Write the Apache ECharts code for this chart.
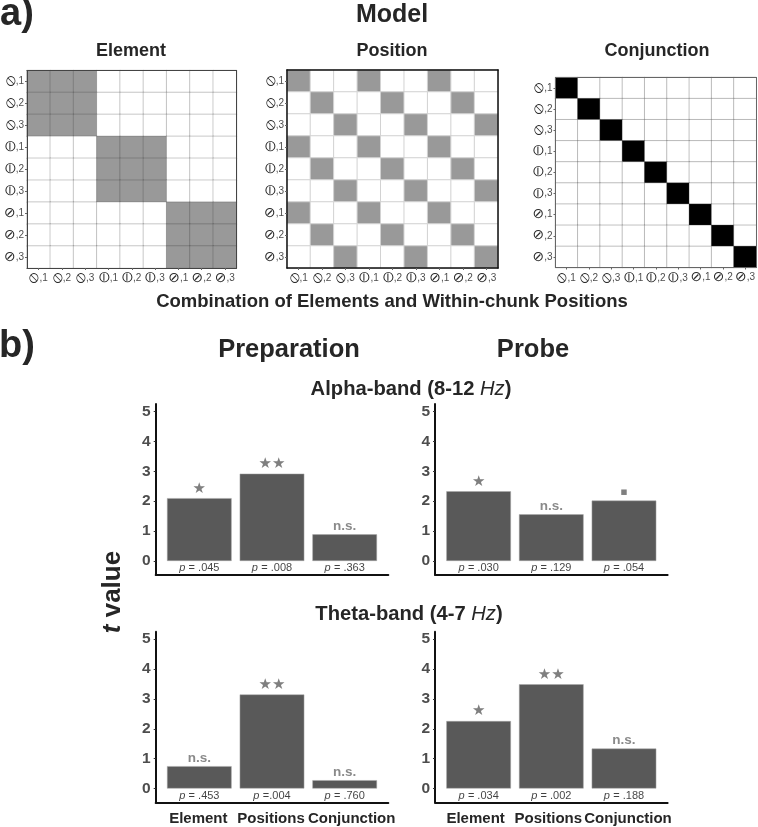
<!DOCTYPE html>
<html><head><meta charset="utf-8">
<style>html,body{margin:0;padding:0;background:#fff}#c{width:758px;height:827px}</style>
<script src="https://cdn.jsdelivr.net/npm/echarts@6/dist/echarts.min.js"></script>
</head><body><div id="c"></div>
<script>
const comboSymbols = ['⦸','⦸','⦸','⦶','⦶','⦶','⊘','⊘','⊘'];
const comboPositions = [1,2,3,1,2,3,1,2,3];
const elementGroups = [0,0,0,1,1,1,2,2,2];
const barCategories = ['Element','Positions','Conjunction'];
const alphaPrep = [2.10,2.92,0.89];
const alphaProbe = [2.33,1.56,2.02];
const thetaPrep = [0.75,3.15,0.28];
const thetaProbe = [2.26,3.49,1.34];
const alphaPrepP = ['= .045','= .008','= .363'];
const alphaProbeP = ['= .030','= .129','= .054'];
const thetaPrepP = ['= .453','=.004','= .760'];
const thetaProbeP = ['= .034','= .002','= .188'];
const alphaPrepSig = ['*','**','n.s.'];
const alphaProbeSig = ['*','n.s.','.'];
const thetaPrepSig = ['n.s.','**','n.s.'];
const thetaProbeSig = ['*','**','n.s.'];
const yTicks = [0,1,2,3,4,5];

const F = '"Liberation Sans",Arial,sans-serif';
const comboLabels = comboSymbols.map((s,i)=>s+','+comboPositions[i]);
const grids=[],xAxes=[],yAxes=[],series=[];

function catLabel(){return {
  interval:0,margin:3,
  formatter:v=>{const [s,n]=v.split(',');return '{'+(s==='⊘'?'o':'s')+'|'+s+'}{n|,'+n+'}';},
  rich:{s:{fontFamily:'"DejaVu Sans"',fontSize:15,color:'#222'},
        o:{fontFamily:'"DejaVu Sans"',fontSize:14,color:'#2a2a2a'},
        n:{fontFamily:F,fontSize:10,color:'#4d4d4d'}}
};}
function heat(box,cellFn,fill,border,frame,frameW){
  const gi=grids.length;
  grids.push({left:box[0],top:box[1],width:box[2],height:box[3],containLabel:false});
  const line={show:true,onZero:false,lineStyle:{color:frame,width:frameW}};
  xAxes.push({gridIndex:gi,type:'category',data:comboLabels,position:'bottom',axisLine:line,
    axisTick:{show:true,alignWithLabel:true,length:2,lineStyle:{color:'#666'}},axisLabel:catLabel(),splitLine:{show:false},z:5});
  yAxes.push({gridIndex:gi,type:'category',data:comboLabels,inverse:true,position:'left',axisLine:line,
    axisTick:{show:true,alignWithLabel:true,length:2,lineStyle:{color:'#666'}},axisLabel:catLabel(),splitLine:{show:false},z:5});
  const xi=xAxes.length-1, yi=yAxes.length-1;
  xAxes.push({gridIndex:gi,type:'category',data:comboLabels,position:'top',axisLine:line,axisTick:{show:false},axisLabel:{show:false},z:5});
  yAxes.push({gridIndex:gi,type:'category',data:comboLabels,inverse:true,position:'right',axisLine:line,axisTick:{show:false},axisLabel:{show:false},z:5});
  const data=[];
  for(let r=0;r<9;r++)for(let c=0;c<9;c++){
    const on=cellFn(r,c);
    data.push({value:[c,r,on?1:0],itemStyle:{color:on?fill:'#ffffff'}});
  }
  series.push({type:'heatmap',xAxisIndex:xi,yAxisIndex:yi,data,
    itemStyle:{borderColor:border,borderWidth:1},emphasis:{disabled:true},progressive:0});
}
heat([27,70.5,209.5,197.5],(r,c)=>elementGroups[r]===elementGroups[c],'#999999','rgba(40,40,40,0.24)','#444',1);
heat([287,70,211,198],(r,c)=>comboPositions[r]===comboPositions[c],'#999999','#d2d2d2','#111',1.5);
heat([555.5,77.5,202.5,190],(r,c)=>r===c,'#000000','rgba(60,60,60,0.3)','#666',1);

function panel(box,vals,ps,sigs,showCats,shifts){
  const gi=grids.length;
  grids.push({left:box[0],top:box[1],width:box[2],height:box[3]});
  const catRich={};
  shifts.forEach((s,i)=>{catRich['c'+i]={fontFamily:F,fontWeight:'bold',fontSize:15,color:'#262626',
    padding:s>=0?[0,0,0,2*s]:[0,-2*s,0,0]};});
  xAxes.push({gridIndex:gi,type:'value',min:0.4,max:3.6,splitLine:{show:false},
    axisLine:{show:true,onZero:false,lineStyle:{color:'#111',width:2}},
    axisTick:{show:false},
    axisLabel:{show:showCats,interval:0,customValues:[1,2,3],margin:9,hideOverlap:false,showMinLabel:true,showMaxLabel:true,
      formatter:v=>'{c'+(v-1)+'|'+barCategories[v-1]+'}',rich:catRich}});
  yAxes.push({gridIndex:gi,type:'value',min:-0.46,max:5.25,splitLine:{show:false},
    axisLine:{show:true,onZero:false,lineStyle:{color:'#111',width:2}},
    axisTick:{show:true,length:2,customValues:yTicks,lineStyle:{color:'#333'}},
    axisLabel:{customValues:yTicks,margin:5,fontFamily:F,fontWeight:'bold',fontSize:15.5,color:'#4d4d4d'}});
  const idx=xAxes.length-1;
  series.push({type:'bar',xAxisIndex:idx,yAxisIndex:yAxes.length-1,barWidth:64.6,
    data:vals.map((v,i)=>[i+1,v]),itemStyle:{color:'#595959',borderColor:'#a9a9a9',borderWidth:0.5},
    label:{show:true,position:'top',distance:1,formatter:p=>{const s=sigs[p.dataIndex];
        return s==='n.s.'?'{n|n.s.}':(s==='.'?'{d|▪}':'{a|'+s.replace(/\*/g,'★')+'}');},
      rich:{n:{fontFamily:F,fontWeight:'bold',fontSize:13.5,color:'#8a8a8a',lineHeight:14},
            a:{fontFamily:'"DejaVu Sans"',fontSize:15,color:'#7f7f7f',lineHeight:14,padding:[0,0,3,0]},
            d:{fontFamily:'"DejaVu Sans"',fontSize:11,color:'#7f7f7f',lineHeight:11,padding:[0,0,3,0]}}}});
  series.push({type:'scatter',xAxisIndex:idx,yAxisIndex:yAxes.length-1,symbolSize:0,
    data:vals.map((v,i)=>[i+1,0]),
    label:{show:true,position:'bottom',distance:1,formatter:p=>'{i|p} {t|'+ps[p.dataIndex]+'}',
      rich:{i:{fontFamily:F,fontStyle:'italic',fontSize:11,color:'#111'},t:{fontFamily:F,fontSize:11,color:'#111'}}}});
}
panel([155.7,404,232.6,170.7],alphaPrep,alphaPrepP,alphaPrepSig,false,[0,0,0]);
panel([435,404,232.6,170.7],alphaProbe,alphaProbeP,alphaProbeSig,false,[0,0,0]);
panel([155.7,631.7,232.6,170.6],thetaPrep,thetaPrepP,thetaPrepSig,true,[-1,-1,7]);
panel([435,631.7,232.6,170.6],thetaProbe,thetaProbeP,thetaProbeSig,true,[-3,-3,4]);

function T(text,x,y,size,opt){return {text,left:x,top:y,textAlign:'center',textVerticalAlign:'middle',padding:0,
  textStyle:Object.assign({fontFamily:F,fontWeight:'bold',fontSize:size,color:'#262626'},opt||{})};}
const hzRich=s=>({rich:{b:{fontFamily:F,fontWeight:'bold',fontSize:s,color:'#262626'},i:{fontFamily:F,fontWeight:'normal',fontStyle:'italic',fontSize:s,color:'#262626'}}});
const titles=[
  T('Model',392,15,25),
  T('Element',131,51,18),T('Position',392,51,18),T('Conjunction',657,51,18),
  T('Combination of Elements and Within-chunk Positions',392,302,18.5),
  T('Preparation',289,350,25.5),T('Probe',533,350,25.5),
  T('{b|Alpha-band (8-12 }{i|Hz}{b|)}',411,389,20.2,hzRich(20.2)),
  T('{b|Theta-band (4-7 }{i|Hz}{b|)}',409,614,20.2,hzRich(20.2)),
  T('a)',17,15,38),
  T('b)',17,347,38)
];
const chart=echarts.init(document.getElementById('c'),null,{renderer:'canvas'});
chart.setOption({animation:false,backgroundColor:'#fff',title:titles,grid:grids,xAxis:xAxes,yAxis:yAxes,series,
  graphic:[{type:'text',x:113,y:592,rotation:Math.PI/2,
    style:{text:'{t|t}{v| value}',align:'center',verticalAlign:'middle',
      rich:{t:{fontFamily:F,fontStyle:'italic',fontWeight:'bold',fontSize:26,fill:'#262626'},v:{fontFamily:F,fontWeight:'bold',fontSize:26,fill:'#262626'}}}}]});
</script></body></html>
